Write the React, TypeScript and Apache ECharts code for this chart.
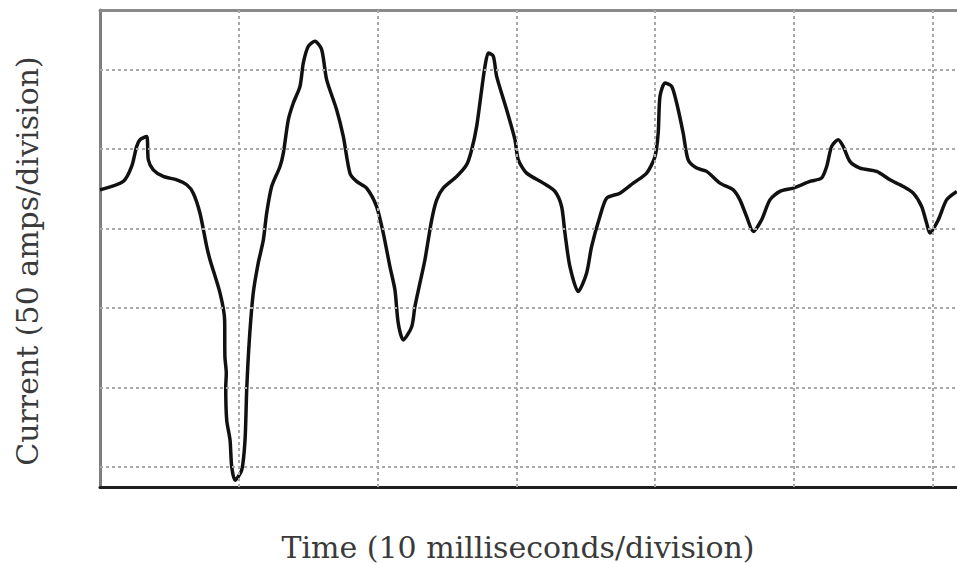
import React, { useEffect, useRef } from "react";
import * as echarts from "echarts";

// Time in milliseconds (10 ms per division)
const timeMs: number[] = [
  0, 1.68, 2.28, 2.64, 2.88, 3.36, 3.48, 3.84, 4.56, 5.53, 6.25, 6.72, 7.2, 7.69, 7.93, 8.65, 8.98, 9.0,
  9.1, 9.06, 9.13, 9.37, 9.49, 9.73, 10.21, 10.45, 10.57, 10.76, 11.04, 11.4, 11.77, 12.01, 12.37, 12.97,
  13.21, 13.57, 13.93, 14.41, 14.65, 15.01, 15.49, 15.97, 16.33, 17.05, 17.53, 18.01, 18.49, 19.21, 19.93,
  20.41, 20.89, 21.25, 21.49, 21.85, 22.46, 22.69, 23.05, 23.41, 23.9, 24.26, 24.73, 25.7, 26.42, 26.78,
  27.14, 27.5, 27.74, 27.98, 28.34, 28.58, 29.3, 29.9, 30.14, 30.74, 31.94, 32.78, 33.26, 33.5, 33.86,
  34.46, 35.06, 35.42, 36.02, 36.51, 37.46, 38.42, 39.39, 39.99, 40.22, 40.35, 40.71, 41.19, 41.55, 42.02,
  42.38, 42.99, 43.71, 44.67, 45.63, 46.11, 46.59, 47.07, 47.67, 48.27, 48.99, 49.95, 51.15, 51.99, 52.36,
  52.72, 53.19, 53.55, 54.03, 54.76, 55.96, 56.92, 57.88, 58.6, 59.2, 59.56, 59.8, 60.4, 61.0, 61.74,
];

// Current in amps (50 amps per division)
const currentAmps: number[] = [
  174.4, 179.7, 189.1, 201.7, 205.9, 208.0, 193.3, 187.0, 182.8, 180.7, 177.6, 172.3, 159.8, 138.7, 130.3,
  109.4, 92.6, 69.5, 59.0, 50.6, 29.6, 17.0, 0.2, -8.2, -1.9, 17.0, 48.5, 80.0, 109.4, 128.3, 142.9, 159.8,
  176.5, 189.1, 197.5, 218.5, 229.0, 239.5, 254.2, 264.7, 267.8, 262.6, 243.7, 224.8, 208.0, 184.9, 179.7,
  175.5, 163.9, 147.2, 126.1, 111.5, 90.5, 80.0, 88.3, 100.9, 115.7, 130.3, 155.5, 168.1, 175.5, 182.8,
  190.2, 199.6, 214.3, 237.4, 252.1, 260.5, 258.4, 245.8, 224.8, 205.9, 193.3, 184.9, 178.6, 173.4, 163.9,
  147.2, 126.1, 110.4, 122.0, 138.7, 157.6, 169.2, 172.3, 178.6, 184.9, 195.4, 210.1, 233.2, 241.6, 239.5,
  229.0, 210.1, 193.3, 188.1, 186.0, 178.6, 174.4, 168.1, 157.6, 148.2, 155.5, 168.1, 173.4, 175.5, 179.7,
  181.8, 189.1, 201.7, 205.9, 201.7, 192.3, 188.1, 186.0, 180.7, 176.5, 172.3, 163.9, 153.5, 147.2, 155.5,
  168.1, 173.4,
];

// Grid division positions
const timeGridMs: number[] = [10, 20, 30, 40, 50, 60];
const currentGridAmps: number[] = [0, 50, 100, 150, 200, 250];

const X_TITLE = "Time (10 milliseconds/division)";
const Y_TITLE = "Current (50 amps/division)";

export default function App() {
  const ref = useRef<HTMLDivElement>(null);

  useEffect(() => {
    if (!ref.current) return;
    const chart = echarts.init(ref.current, null, { renderer: "svg" });
    const points = timeMs.map((t, i) => [t, currentAmps[i]]);
    const font = "30px 'DejaVu Serif', serif";

    chart.setOption({
      animation: false,
      backgroundColor: "#ffffff",
      grid: { left: 100, right: 0, top: 10, bottom: 76, containLabel: false },
      xAxis: [
        {
          type: "value",
          min: 0,
          max: 61.75,
          axisLine: { show: true, onZero: false, lineStyle: { color: "#1e1e1e", width: 3 } },
          axisTick: { show: false },
          axisLabel: { show: false },
          splitLine: { show: false },
        },
        {
          type: "value",
          position: "top",
          min: 0,
          max: 61.75,
          axisLine: { show: true, onZero: false, lineStyle: { color: "#8a8a8a", width: 3 } },
          axisTick: { show: false },
          axisLabel: { show: false },
          splitLine: { show: false },
        },
      ],
      yAxis: {
        type: "value",
        min: -12.5,
        max: 287.5,
        axisLine: { show: true, onZero: false, lineStyle: { color: "#7e7e7e", width: 3 } },
        axisTick: { show: false },
        axisLabel: { show: false },
        splitLine: { show: false },
      },
      series: [
        {
          type: "line",
          data: [],
          z: 1,
          silent: true,
          markLine: {
            silent: true,
            symbol: "none",
            label: { show: false },
            lineStyle: { type: [3, 3], color: "#a8a8a8", width: 2 },
            data: [
              ...timeGridMs.map((v) => ({ xAxis: v })),
              ...currentGridAmps.map((v) => ({ yAxis: v })),
            ],
          },
        },
        {
          type: "line",
          data: points,
          z: 3,
          smooth: 0.25,
          showSymbol: false,
          symbol: "none",
          lineStyle: { color: "#111111", width: 3.5 },
          silent: true,
        },
      ],
      graphic: [
        {
          type: "text",
          x: 518,
          y: 547,
          style: {
            text: X_TITLE,
            font,
            fill: "#3a3a3a",
            textAlign: "center",
            textVerticalAlign: "middle",
          },
        },
        {
          type: "text",
          x: 27,
          y: 261,
          rotation: Math.PI / 2,
          style: {
            text: Y_TITLE,
            font,
            fill: "#3a3a3a",
            textAlign: "center",
            textVerticalAlign: "middle",
          },
        },
      ],
    });

    return () => chart.dispose();
  }, []);

  return (
    <div
      ref={ref}
      style={{ position: "absolute", left: 0, top: 0, width: 957, height: 563 }}
    />
  );
}
